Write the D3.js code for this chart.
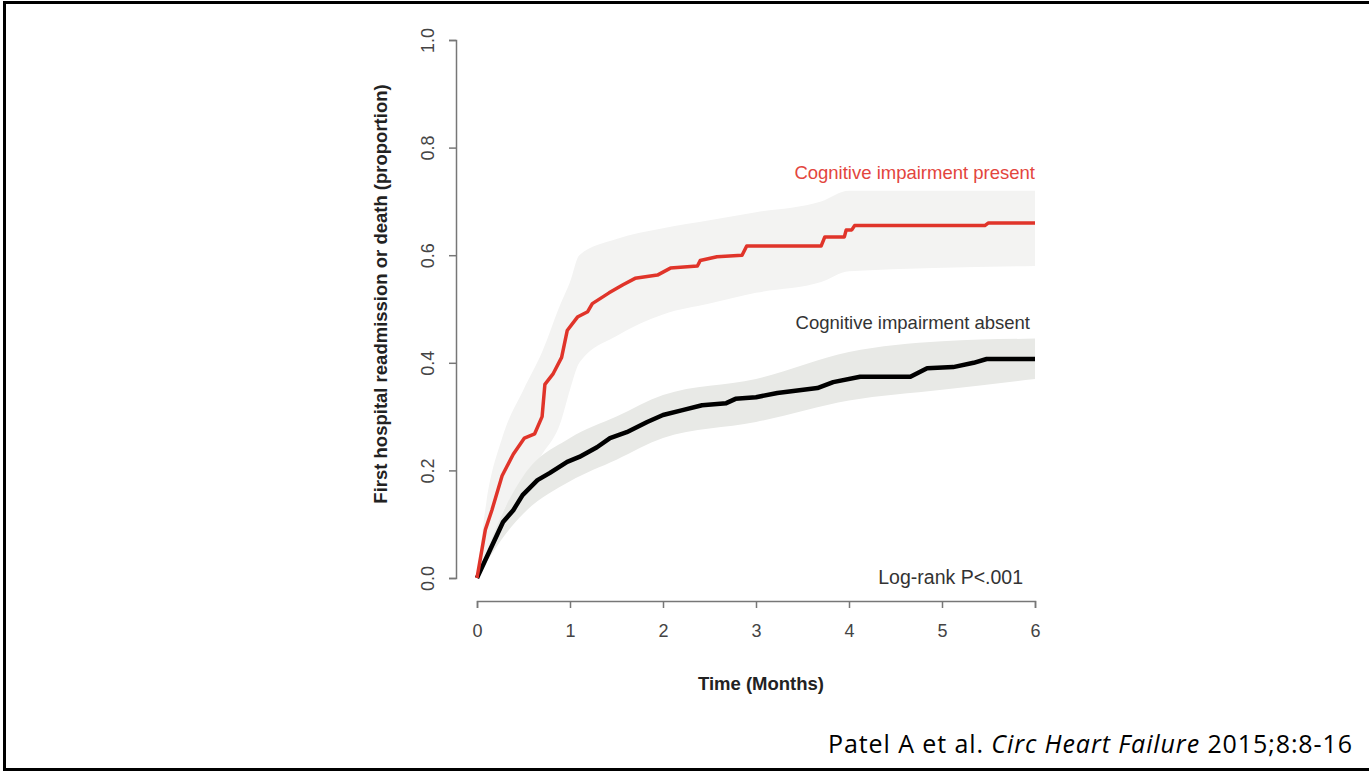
<!DOCTYPE html>
<html>
<head>
<meta charset="utf-8">
<script src="https://cdn.jsdelivr.net/npm/d3@7"></script>
<style>
  body { margin: 0; background: #fff; }
  svg { display: block; }
</style>
</head>
<body>
<svg id="chart" width="1369" height="772"></svg>
<script>
// curve vertices (months, cumulative proportion)
var presentTime = [0, 0.09, 0.16, 0.27, 0.39, 0.51, 0.62, 0.70, 0.73, 0.82, 0.91, 0.97, 1.08, 1.19, 1.24, 1.42, 1.57, 1.70, 1.94, 2.08, 2.37, 2.40, 2.58, 2.85, 2.90, 3.70, 3.74, 3.95, 3.97, 4.03, 4.06, 5.46, 5.50, 6.0]
var presentValue = [0, 0.09, 0.126, 0.19, 0.23, 0.26, 0.268, 0.30, 0.36, 0.38, 0.41, 0.46, 0.485, 0.495, 0.51, 0.53, 0.545, 0.557, 0.563, 0.576, 0.58, 0.59, 0.597, 0.60, 0.617, 0.617, 0.634, 0.634, 0.647, 0.647, 0.655, 0.655, 0.66, 0.66]

var absentTime = [0, 0.14, 0.28, 0.39, 0.49, 0.65, 0.78, 0.97, 1.10, 1.29, 1.43, 1.61, 1.83, 2.00, 2.21, 2.42, 2.68, 2.78, 3.00, 3.23, 3.66, 3.83, 4.12, 4.66, 4.84, 5.12, 5.34, 5.48, 6.0]
var absentValue = [0, 0.052, 0.104, 0.126, 0.154, 0.182, 0.195, 0.216, 0.225, 0.243, 0.26, 0.271, 0.29, 0.303, 0.312, 0.321, 0.325, 0.333, 0.336, 0.344, 0.353, 0.364, 0.374, 0.374, 0.39, 0.392, 0.40, 0.407, 0.407]

// confidence bands
var presentBandTime = [0, 0.1, 0.27, 0.5, 0.7, 0.9, 1.0, 1.1, 1.5, 2.0, 2.5, 3.0, 3.7, 4.0, 6.0]
var presentBandLow = [0, 0.04, 0.12, 0.18, 0.23, 0.29, 0.35, 0.40, 0.45, 0.49, 0.51, 0.53, 0.55, 0.57, 0.58]
var presentBandHigh = [0, 0.14, 0.26, 0.35, 0.42, 0.51, 0.55, 0.60, 0.63, 0.65, 0.665, 0.68, 0.70, 0.72, 0.72]

var absentBandTime = [0, 0.3, 0.5, 1.0, 1.5, 2.0, 3.0, 4.0, 5.0, 6.0]
var absentBandLow = [0, 0.08, 0.12, 0.18, 0.22, 0.26, 0.29, 0.33, 0.35, 0.37]
var absentBandHigh = [0, 0.13, 0.19, 0.26, 0.30, 0.34, 0.37, 0.42, 0.44, 0.445]

var xTicks = [0, 1, 2, 3, 4, 5, 6]
var yTicks = [0, 0.2, 0.4, 0.6, 0.8, 1.0]

var svg = d3.select("#chart")
var font = "'Liberation Sans', Arial, sans-serif"

// slide frame (right edge is cut off)
svg.append("path")
   .attr("d", "M1369,2.5 H4.5 V769.5 H1369")
   .attr("fill", "none")
   .attr("stroke", "#000")
   .attr("stroke-width", 3)

var x = d3.scaleLinear().domain([0, 6]).range([477, 1035])
var y = d3.scaleLinear().domain([0, 1]).range([578, 40])

var zip = function(ts, vs) { return ts.map(function(t, i) { return [t, vs[i]] }) }
var zipBand = function(ts, lo, hi) { return ts.map(function(t, i) { return [t, lo[i], hi[i]] }) }

var area = d3.area()
             .x(function(d) { return x(d[0]) })
             .y0(function(d) { return y(d[1]) })
             .y1(function(d) { return y(d[2]) })
             .curve(d3.curveMonotoneX)

svg.append("path")
   .datum(zipBand(presentBandTime, presentBandLow, presentBandHigh))
   .attr("d", area)
   .attr("fill", "#f3f3f2")

svg.append("path")
   .datum(zipBand(absentBandTime, absentBandLow, absentBandHigh))
   .attr("d", area)
   .attr("fill", "#e8e9e6")

var line = d3.line()
             .x(function(d) { return x(d[0]) })
             .y(function(d) { return y(d[1]) })

svg.append("path")
   .datum(zip(absentTime, absentValue))
   .attr("d", line)
   .attr("fill", "none")
   .attr("stroke", "#000")
   .attr("stroke-width", 4.5)
   .attr("stroke-linejoin", "round")

svg.append("path")
   .datum(zip(presentTime, presentValue))
   .attr("d", line)
   .attr("fill", "none")
   .attr("stroke", "#e0342a")
   .attr("stroke-width", 3.5)
   .attr("stroke-linejoin", "round")

// axes, R style
var axisColor = "#777"
var xAxis = svg.append("g")
               .attr("transform", "translate(0,601)")
               .call(d3.axisBottom(x).tickValues(xTicks).tickSize(7).tickPadding(16).tickFormat(d3.format("d")))
var yAxis = svg.append("g")
               .attr("transform", "translate(456,0)")
               .call(d3.axisLeft(y).tickValues(yTicks).tickSize(7).tickFormat(d3.format(".1f")))

svg.selectAll(".domain, .tick line").attr("stroke", axisColor).attr("stroke-width", 1.5)
svg.selectAll(".tick text")
   .attr("font-family", font)
   .attr("font-size", 18)
   .attr("fill", "#444")

yAxis.selectAll(".tick text")
     .attr("x", 0)
     .attr("dy", 0)
     .attr("text-anchor", "middle")
     .attr("transform", "translate(-22,0) rotate(-90)")

svg.append("text")
   .attr("transform", "translate(387,294) rotate(-90)")
   .attr("text-anchor", "middle")
   .attr("font-family", font)
   .attr("font-weight", "bold")
   .attr("font-size", 18.5)
   .attr("fill", "#222")
   .text("First hospital readmission or death (proportion)")

svg.append("text")
   .attr("x", 761)
   .attr("y", 690)
   .attr("text-anchor", "middle")
   .attr("font-family", font)
   .attr("font-weight", "bold")
   .attr("font-size", 18.5)
   .attr("fill", "#222")
   .text("Time (Months)")

var notes = [
  { text: "Cognitive impairment present", x: 1035, y: 179, color: "#e3453d", size: 18.5 },
  { text: "Cognitive impairment absent", x: 1030, y: 329, color: "#333", size: 18.5 },
  { text: "Log-rank P<.001", x: 1023, y: 584, color: "#333", size: 19.5 }
]
svg.selectAll("text.note")
   .data(notes)
   .enter()
   .append("text")
   .attr("class", "note")
   .attr("x", function(d) { return d.x })
   .attr("y", function(d) { return d.y })
   .attr("text-anchor", "end")
   .attr("font-family", font)
   .attr("font-size", function(d) { return d.size })
   .attr("fill", function(d) { return d.color })
   .text(function(d) { return d.text })

var cite = svg.append("text")
              .attr("x", 828)
              .attr("y", 753)
              .attr("textLength", 524)
              .attr("lengthAdjust", "spacing")
              .attr("font-family", "'Open Sans', sans-serif")
              .attr("font-size", 25)
              .attr("fill", "#000")
cite.append("tspan").text("Patel A et al. ")
cite.append("tspan").attr("font-style", "italic").text("Circ Heart Failure")
cite.append("tspan").text(" 2015;8:8-16")
</script>
</body>
</html>
